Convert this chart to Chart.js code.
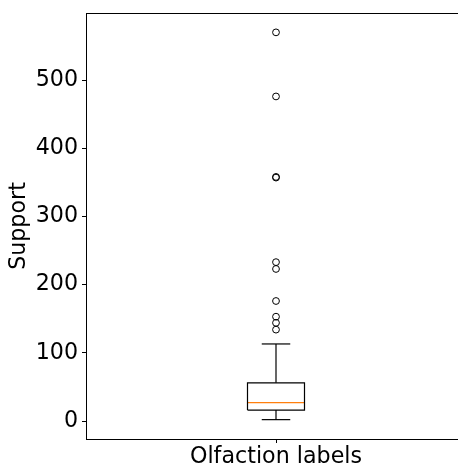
<!DOCTYPE html>
<html>
<head>
<meta charset="utf-8">
<script src="https://cdn.jsdelivr.net/npm/chart.js@4/dist/chart.umd.min.js"></script>
<style>
html,body{margin:0;padding:0;overflow:hidden;background:#fff;}
#wrap{position:absolute;left:0;top:0;width:471px;height:466px;}
</style>
</head>
<body>
<div id="wrap"><canvas id="c"></canvas></div>
<script>
// ---- data ----
const categories = ['Olfaction labels'];
const positions = [1];
const whiskerLow = [2];
const q1 = [16];
const median = [27];
const q3 = [56];
const whiskerHigh = [113];
const outliers = [134, 144, 153, 176, 223, 233, 357, 358, 476, 570];
const yTicks = [0, 100, 200, 300, 400, 500];

const boxWidth = 0.15;
const capWidth = boxWidth / 2;
const FONT = 'DejaVu Sans';
const FS = 22.2;

const lineDs = (pts, color) => ({
  type: 'scatter', data: pts, showLine: true, borderColor: color, borderWidth: 1.2,
  pointRadius: 0, fill: false, tension: 0
});

const datasets = [];
positions.forEach((p, i) => {
  const l = p - boxWidth / 2, r = p + boxWidth / 2;
  datasets.push(lineDs([{x:l,y:q1[i]},{x:r,y:q1[i]},{x:r,y:q3[i]},{x:l,y:q3[i]},{x:l,y:q1[i]}], '#000'));
  datasets.push(lineDs([{x:p,y:q1[i]},{x:p,y:whiskerLow[i]}], '#000'));
  datasets.push(lineDs([{x:p,y:q3[i]},{x:p,y:whiskerHigh[i]}], '#000'));
  datasets.push(lineDs([{x:p-capWidth/2,y:whiskerLow[i]},{x:p+capWidth/2,y:whiskerLow[i]}], '#000'));
  datasets.push(lineDs([{x:p-capWidth/2,y:whiskerHigh[i]},{x:p+capWidth/2,y:whiskerHigh[i]}], '#000'));
  datasets.push(lineDs([{x:l,y:median[i]},{x:r,y:median[i]}], '#ff7f0e'));
});
datasets.push({
  type: 'scatter',
  data: outliers.map(v => ({x: positions[0], y: v})),
  showLine: false, pointRadius: 3.4, pointBorderWidth: 1, pointBorderColor: '#000',
  pointBackgroundColor: 'rgba(0,0,0,0)', pointStyle: 'circle'
});

const allVals = [...whiskerLow, ...outliers, ...whiskerHigh];
const dmin = Math.min(...allVals), dmax = Math.max(...allVals);
const margin = (dmax - dmin) * 0.05;

const frame = {
  id: 'frame',
  afterDraw(chart) {
    const a = chart.chartArea, ctx = chart.ctx;
    ctx.save();
    ctx.strokeStyle = '#000';
    ctx.lineWidth = 1;
    ctx.strokeRect(Math.round(a.left) + 0.5, Math.round(a.top) + 0.5, Math.round(a.right - a.left), Math.round(a.bottom - a.top));
    ctx.restore();
  }
};

new Chart(document.getElementById('c'), {
  type: 'scatter',
  data: { datasets },
  plugins: [frame],
  options: {
    responsive: true,
    maintainAspectRatio: false,
    animation: false,
    layout: { padding: { top: 13, left: 0, right: 0, bottom: 0 } },
    plugins: { legend: { display: false }, tooltip: { enabled: false } },
    scales: {
      x: {
        type: 'linear', min: 0.5, max: 1.5,
        afterBuildTicks: s => { s.ticks = positions.map(v => ({value: v})); },
        afterFit: s => { s.height = 27; s.paddingLeft = 0; s.paddingRight = 0; },
        grid: { drawOnChartArea: false, tickLength: 4, color: '#000', tickWidth: 1 },
        border: { display: true, color: '#000', width: 1 },
        ticks: {
          color: '#000', padding: 1, maxRotation: 0,
          font: { family: FONT, size: FS },
          callback: v => categories[positions.indexOf(v)] ?? ''
        }
      },
      y: {
        type: 'linear', min: dmin - margin, max: dmax + margin,
        afterBuildTicks: s => { s.ticks = yTicks.map(v => ({value: v})); },
        afterFit: s => { s.width = 86; s.paddingTop = 0; s.paddingBottom = 0; },
        grid: { drawOnChartArea: false, tickLength: 4, color: '#000', tickWidth: 1 },
        border: { display: true, color: '#000', width: 1 },
        ticks: { color: '#000', padding: 4, font: { family: FONT, size: FS } },
        title: {
          display: true, text: 'Support', color: '#000',
          font: { family: FONT, size: FS }, padding: { top: 6, bottom: 0 }
        }
      }
    }
  }
});
</script>
</body>
</html>
